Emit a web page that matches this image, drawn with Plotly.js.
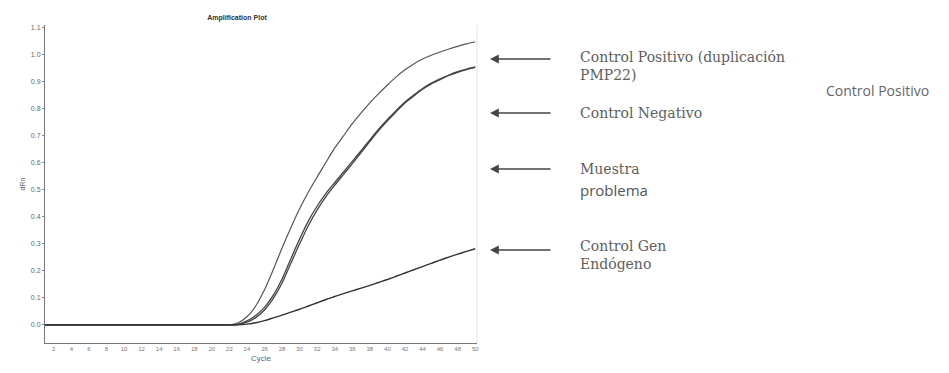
<!DOCTYPE html>
<html>
<head>
<meta charset="utf-8">
<script src="https://cdn.plot.ly/plotly-3.0.1.min.js"></script>
<style>html,body{margin:0;padding:0;background:#fff;}#chart{width:949px;height:373px;}</style>
</head>
<body>
<div id="chart"></div>
<script>
const cycles = [1,2,3,4,5,6,7,8,9,10,11,12,13,14,15,16,17,18,19,20,21,22,23,24,25,26,27,28,29,30,31,32,33,34,35,36,37,38,39,40,41,42,43,44,45,46,47,48,49,50];

const controlPositivo = [0,0,0,0,0,0,0,0,0,0,0,0,0,0,0,0,0,0,0,0,0,0,0.008,0.03,0.07,0.13,0.205,0.285,0.36,0.43,0.492,0.548,0.602,0.655,0.70,0.745,0.785,0.822,0.856,0.888,0.918,0.944,0.966,0.984,0.998,1.01,1.021,1.031,1.04,1.048];

const controlNegativo = [0,0,0,0,0,0,0,0,0,0,0,0,0,0,0,0,0,0,0,0,0,0,0.003,0.015,0.035,0.065,0.11,0.17,0.245,0.318,0.385,0.44,0.487,0.527,0.566,0.605,0.645,0.685,0.724,0.76,0.794,0.825,0.851,0.875,0.895,0.911,0.925,0.937,0.947,0.955];

const muestraProblema = [0,0,0,0,0,0,0,0,0,0,0,0,0,0,0,0,0,0,0,0,0,0,0.002,0.01,0.027,0.055,0.098,0.155,0.228,0.3,0.368,0.426,0.475,0.517,0.557,0.597,0.638,0.679,0.719,0.755,0.789,0.821,0.847,0.872,0.892,0.908,0.923,0.935,0.945,0.953];

const controlGenEndogeno = [0,0,0,0,0,0,0,0,0,0,0,0,0,0,0,0,0,0,0,0,0,0,0,0.003,0.008,0.016,0.026,0.036,0.047,0.058,0.07,0.082,0.094,0.105,0.116,0.126,0.136,0.146,0.157,0.168,0.18,0.192,0.204,0.216,0.228,0.24,0.251,0.262,0.272,0.282];

const seriesNames = ["Control Positivo (duplicación PMP22)", "Control Negativo", "Muestra problema", "Control Gen Endógeno"];

const yTickVals = [0.0,0.1,0.2,0.3,0.4,0.5,0.6,0.7,0.8,0.9,1.0,1.1];
const yTickText = ["0.0","0.1","0.2","0.3","0.4","0.5","0.6","0.7","0.8","0.9","1.0","1.1"];

const W = 949, H = 373;
const L = 45, R = 477, T = 25, B = 343;
const px = x => (x - L) / (R - L);
const py = y => (B - y) / (B - T);

const traces = [
  {x: cycles, y: controlPositivo, name: seriesNames[0], line: {color: '#555', width: 1.2, shape: 'spline', smoothing: 0.8}},
  {x: cycles, y: controlNegativo, name: seriesNames[1], line: {color: '#444', width: 1.3, shape: 'spline', smoothing: 0.8}},
  {x: cycles, y: muestraProblema, name: seriesNames[2], line: {color: '#444', width: 1.3, shape: 'spline', smoothing: 0.8}},
  {x: cycles, y: controlGenEndogeno, name: seriesNames[3], line: {color: '#333', width: 1.4, shape: 'spline', smoothing: 0.8}}
].map(t => Object.assign({type: 'scatter', mode: 'lines', hoverinfo: 'skip'}, t));

const serif = {family: 'DejaVu Serif, Liberation Serif, serif', size: 14, color: '#5e5e5e'};
const sans = {family: 'Open Sans, Lato, sans-serif', size: 15, color: '#555'};

const arrowYs = [59, 113, 169, 250];
const annotations = [];
arrowYs.forEach(y => {
  annotations.push({
    xref: 'paper', yref: 'paper', x: px(490), y: py(y),
    text: '', showarrow: true, ax: 62, ay: 0,
    arrowhead: 2, arrowsize: 1.1, arrowwidth: 1.6, arrowcolor: '#444'
  });
});
const textItems = [
  {t: 'Control Positivo (duplicación<br>PMP22)', y: 66, f: serif},
  {t: 'Control Negativo', y: 113, f: serif},
  {t: 'Muestra', y: 169, f: serif},
  {t: 'problema', y: 190, f: sans},
  {t: 'Control Gen<br>Endógeno', y: 255, f: serif}
];
textItems.forEach(it => {
  annotations.push({
    xref: 'paper', yref: 'paper', x: px(578), y: py(it.y),
    xanchor: 'left', yanchor: 'middle', align: 'left',
    text: it.t, showarrow: false, font: it.f
  });
});
annotations.push({
  xref: 'paper', yref: 'paper', x: px(824), y: py(91),
  xanchor: 'left', yanchor: 'middle', align: 'left',
  text: 'Control Positivo', showarrow: false,
  font: {family: 'Open Sans, Lato, sans-serif', size: 14, color: '#666'}
});

const layout = {
  width: W, height: H,
  margin: {l: L, r: W - R, t: T, b: H - B, pad: 0},
  paper_bgcolor: '#fff', plot_bgcolor: '#fff',
  showlegend: false,
  title: {text: 'Amplification Plot', x: 237 / W, xref: 'container', xanchor: 'center',
          y: 1 - 18 / H, yref: 'container', yanchor: 'middle',
          font: {family: 'Liberation Sans, Arial, sans-serif', size: 7, color: '#333', weight: 'bold'}},
  xaxis: {
    range: [1, 50.2], showgrid: false, zeroline: false,
    showline: true, linecolor: '#777', linewidth: 1,
    tickmode: 'linear', tick0: 0, dtick: 2,
    ticks: '', tickfont: {family: 'Liberation Sans, Arial, sans-serif', size: 6, color: '#777'},
    title: {text: 'Cycle', standoff: 4, font: {family: 'Liberation Sans, Arial, sans-serif', size: 8, color: '#666'}}
  },
  yaxis: {
    range: [-0.067, 1.11], showgrid: false, zeroline: false,
    showline: true, linecolor: '#777', linewidth: 1,
    tickmode: 'array', tickvals: yTickVals, ticktext: yTickText,
    ticks: 'outside', ticklen: 2, tickcolor: '#888',
    tickfont: {family: 'Liberation Sans, Arial, sans-serif', size: 7, color: '#666'},
    title: {text: 'dRn', standoff: 4, font: {family: 'Liberation Sans, Arial, sans-serif', size: 7, color: '#666'}}
  },
  shapes: [
    {type: 'line', xref: 'paper', yref: 'paper', x0: 1, x1: 1, y0: 0, y1: 1, line: {color: '#e4e4e4', width: 1}}
  ],
  annotations: annotations
};

Plotly.newPlot('chart', traces, layout, {staticPlot: true, displayModeBar: false});
</script>
</body>
</html>
